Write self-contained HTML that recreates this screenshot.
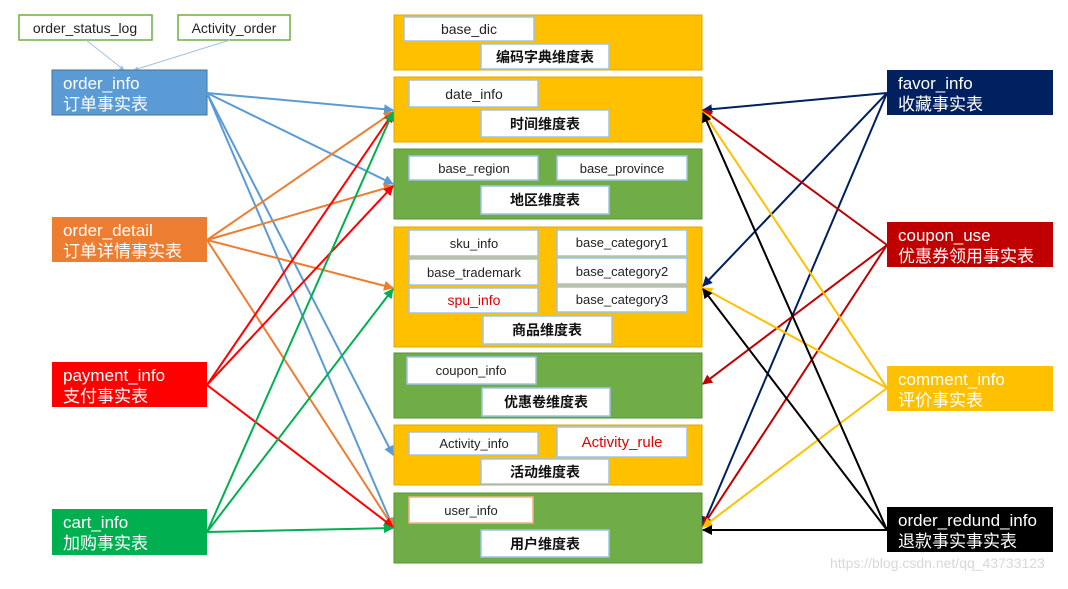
<!DOCTYPE html>
<html><head><meta charset="utf-8"><style>
html,body{margin:0;padding:0;background:#fff;}
svg{display:block;}
text{font-family:"Liberation Sans","Noto Sans CJK SC",sans-serif;}
.w{fill:#fff;stroke:#9dc3e6;stroke-width:1.5;}
.t{font-size:13px;fill:#222;text-anchor:middle;}
.b{font-size:14px;font-weight:bold;fill:#111;text-anchor:middle;}
.lt{font-size:17px;fill:#fff;}
</style></head><body>
<svg width="1068" height="589" viewBox="0 0 1068 589" xmlns="http://www.w3.org/2000/svg">
<defs>
<marker id="m" viewBox="0 0 10 10" refX="9" refY="5" markerWidth="5" markerHeight="5" orient="auto-start-reverse" markerUnits="strokeWidth"><path d="M0,0L10,5L0,10z" fill="context-stroke"/></marker>
</defs>
<rect width="1068" height="589" fill="#fff"/>
<rect x="394" y="15" width="308" height="55" fill="#ffc000" stroke="#e0a800"/>
<rect class="w" x="404" y="17" width="130" height="24"/><text class="t" x="469" y="34" style="font-size:14px">base_dic</text>
<rect class="w" x="481" y="44" width="128" height="25"/><text class="b" x="545" y="62">编码字典维度表</text>

<rect x="394" y="77" width="308" height="65" fill="#ffc000" stroke="#e0a800"/>
<rect class="w" x="409" y="80" width="129" height="27"/><text class="t" x="474" y="99" style="font-size:14px">date_info</text>
<rect class="w" x="481" y="110" width="128" height="27"/><text class="b" x="545" y="129">时间维度表</text>

<rect x="394" y="149" width="308" height="70" fill="#70ad47" stroke="#5a9236"/>
<rect class="w" x="409" y="156" width="129" height="24"/><text class="t" x="474" y="173">base_region</text>
<rect class="w" x="557" y="156" width="130" height="24"/><text class="t" x="622" y="173">base_province</text>
<rect class="w" x="481" y="186" width="128" height="28"/><text class="b" x="545" y="205">地区维度表</text>

<rect x="394" y="227" width="308" height="120" fill="#ffc000" stroke="#e0a800"/>
<rect class="w" x="409" y="230" width="129" height="26"/><text class="t" x="474" y="248">sku_info</text>
<rect class="w" x="557" y="230" width="130" height="26"/><text class="t" x="622" y="247">base_category1</text>
<rect class="w" x="409" y="259" width="129" height="26"/><text class="t" x="474" y="277">base_trademark</text>
<rect class="w" x="557" y="258" width="130" height="26"/><text class="t" x="622" y="276">base_category2</text>
<rect class="w" x="409" y="288" width="129" height="25"/><text class="t" x="474" y="305" style="fill:#e00000;font-size:14px">spu_info</text>
<rect class="w" x="557" y="287" width="130" height="25"/><text class="t" x="622" y="304">base_category3</text>
<rect class="w" x="483" y="316" width="129" height="28"/><text class="b" x="547" y="335">商品维度表</text>

<rect x="394" y="353" width="308" height="65" fill="#70ad47" stroke="#5a9236"/>
<rect class="w" x="407" y="357" width="129" height="27"/><text class="t" x="471" y="375">coupon_info</text>
<rect class="w" x="482" y="388" width="128" height="28"/><text class="b" x="546" y="407">优惠卷维度表</text>

<rect x="394" y="425" width="308" height="60" fill="#ffc000" stroke="#e0a800"/>
<rect class="w" x="409" y="432" width="129" height="23"/><text class="t" x="474" y="448">Activity_info</text>
<rect class="w" x="557" y="427" width="130" height="30"/><text class="t" x="622" y="447" style="fill:#e00000;font-size:15px">Activity_rule</text>
<rect class="w" x="481" y="459" width="128" height="25"/><text class="b" x="545" y="477">活动维度表</text>

<rect x="394" y="493" width="308" height="70" fill="#70ad47" stroke="#5a9236"/>
<rect x="409" y="497" width="124" height="26" fill="#fff" stroke="#f4b183" stroke-width="1.5"/><text class="t" x="471" y="515">user_info</text>
<rect class="w" x="481" y="530" width="128" height="27"/><text class="b" x="545" y="549">用户维度表</text>

<rect x="19" y="15" width="133" height="25" fill="#fff" stroke="#70ad47" stroke-width="1.5"/><text class="t" x="85" y="33" style="font-size:14px">order_status_log</text>
<rect x="178" y="15" width="112" height="25" fill="#fff" stroke="#70ad47" stroke-width="1.5"/><text class="t" x="234" y="33" style="font-size:14px">Activity_order</text>
<g stroke="#9dc3e6" stroke-width="1" marker-end="url(#m)">
<line x1="86" y1="40" x2="124" y2="70"/><line x1="230" y1="40" x2="134" y2="70"/>
</g>

<rect x="52" y="70" width="155" height="45" fill="#5b9bd5" stroke="#41719c"/>
<text class="lt" x="63" y="89">order_info</text><text class="lt" x="63" y="110">订单事实表</text>
<rect x="52" y="217" width="155" height="45" fill="#ed7d31"/>
<text class="lt" x="63" y="236">order_detail</text><text class="lt" x="63" y="257">订单详情事实表</text>
<rect x="52" y="362" width="155" height="45" fill="#ff0000"/>
<text class="lt" x="63" y="381">payment_info</text><text class="lt" x="63" y="402">支付事实表</text>
<rect x="52" y="509" width="155" height="46" fill="#00b050"/>
<text class="lt" x="63" y="528">cart_info</text><text class="lt" x="63" y="549">加购事实表</text>

<rect x="887" y="70" width="166" height="45" fill="#002060"/>
<text class="lt" x="898" y="89">favor_info</text><text class="lt" x="898" y="110">收藏事实表</text>
<rect x="887" y="222" width="166" height="45" fill="#c00000"/>
<text class="lt" x="898" y="241">coupon_use</text><text class="lt" x="898" y="262">优惠券领用事实表</text>
<rect x="887" y="366" width="166" height="45" fill="#ffc000"/>
<text class="lt" x="898" y="385">comment_info</text><text class="lt" x="898" y="406">评价事实表</text>
<rect x="887" y="507" width="166" height="45" fill="#000"/>
<text class="lt" x="898" y="526">order_redund_info</text><text class="lt" x="898" y="547">退款事实事实表</text>

<g stroke-width="2" fill="none" marker-end="url(#m)">
<g stroke="#5b9bd5">
<line x1="207" y1="93" x2="393" y2="110"/><line x1="207" y1="93" x2="393" y2="184"/>
<line x1="207" y1="93" x2="393" y2="455"/><line x1="207" y1="93" x2="393" y2="527"/>
</g>
<g stroke="#ed7d31">
<line x1="207" y1="240" x2="393" y2="112"/><line x1="207" y1="240" x2="393" y2="186"/>
<line x1="207" y1="240" x2="393" y2="288"/><line x1="207" y1="240" x2="393" y2="527"/>
</g>
<g stroke="#ff0000">
<line x1="207" y1="385" x2="393" y2="113"/><line x1="207" y1="385" x2="393" y2="186"/>
<line x1="207" y1="385" x2="393" y2="527"/>
</g>
<g stroke="#00b050">
<line x1="207" y1="532" x2="393" y2="112"/><line x1="207" y1="532" x2="393" y2="289"/>
<line x1="207" y1="532" x2="393" y2="528"/>
</g>
</g>
<g stroke-width="2" fill="none" marker-end="url(#m)">
<g stroke="#002060">
<line x1="887" y1="93" x2="703" y2="110"/><line x1="887" y1="93" x2="703" y2="286"/><line x1="887" y1="93" x2="703" y2="526"/>
</g>
<g stroke="#c00000">
<line x1="887" y1="245" x2="703" y2="110"/><line x1="887" y1="245" x2="703" y2="384"/><line x1="887" y1="245" x2="703" y2="526"/>
</g>
<g stroke="#ffc000">
<line x1="887" y1="388" x2="703" y2="112"/><line x1="887" y1="388" x2="703" y2="288"/><line x1="887" y1="388" x2="703" y2="527"/>
</g>
<g stroke="#000">
<line x1="887" y1="530" x2="703" y2="113"/><line x1="887" y1="530" x2="703" y2="289"/><line x1="887" y1="530" x2="703" y2="530"/>
</g>
</g>
<text x="830" y="568" style="font-size:14px;fill:#d8d8d8">https://blog.csdn.net/qq_43733123</text>
</svg>
</body></html>
